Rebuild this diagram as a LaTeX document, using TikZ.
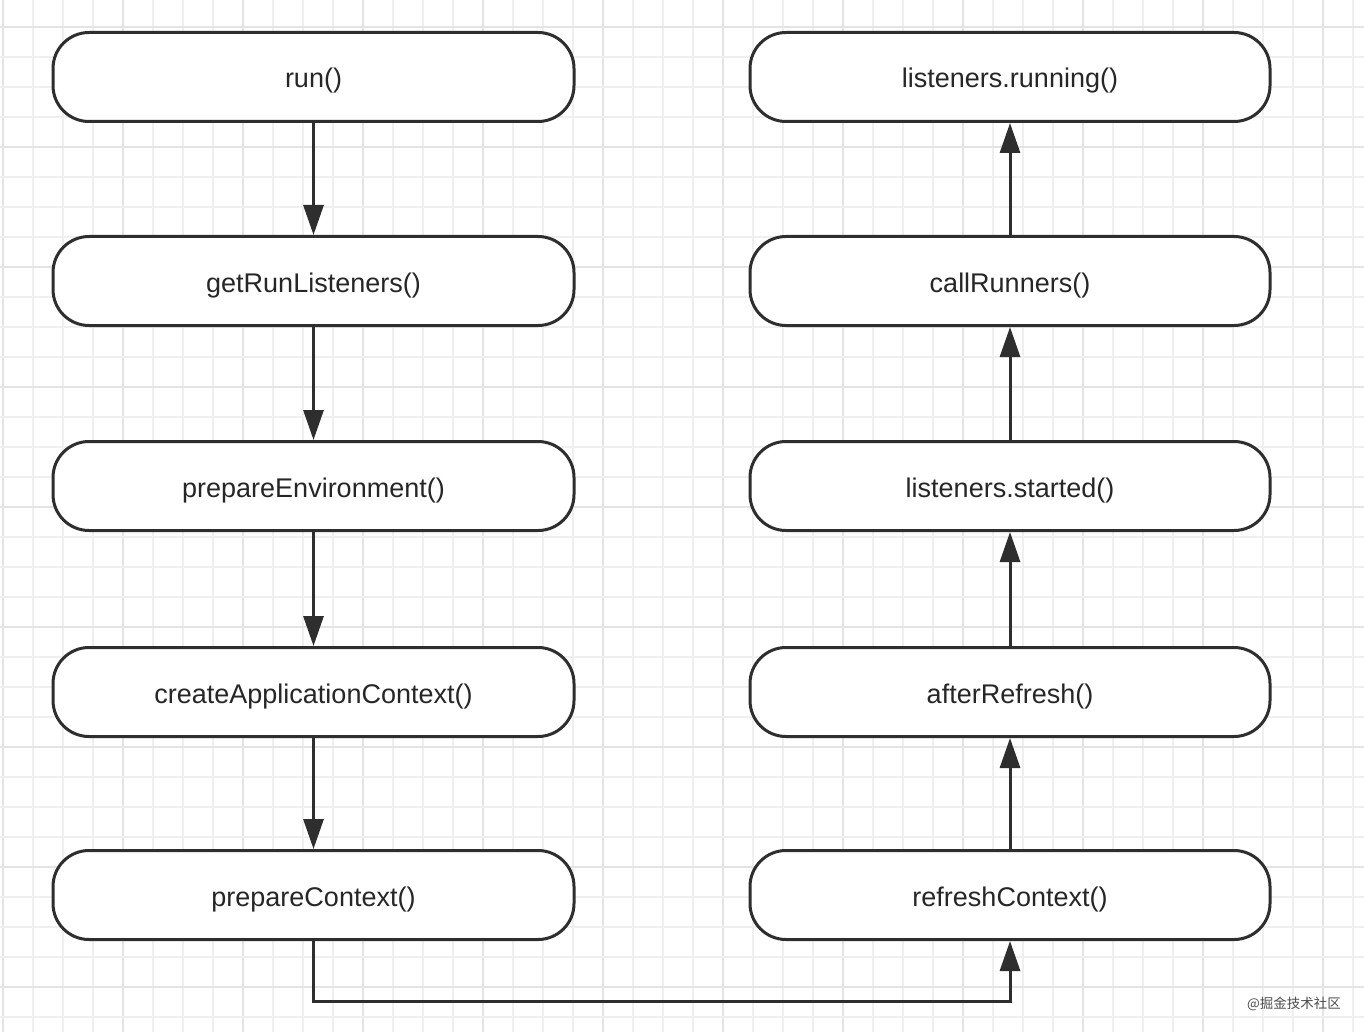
\documentclass[tikz,border=0pt]{standalone}
\usepackage{fontspec}
\setmainfont{Liberation Sans}
\newfontfamily\cjk{Noto Sans CJK SC}
\usetikzlibrary{arrows.meta}
\definecolor{lnc}{HTML}{2E2E2E}
\definecolor{minorg}{HTML}{EFEFEF}
\definecolor{majorg}{HTML}{E4E4E4}
\begin{document}
\begin{tikzpicture}[x=1pt,y=-1pt,
  stepbox/.style={draw=lnc, line width=3pt, rounded corners=36pt, fill=white,
    minimum width=521pt, minimum height=89pt, inner sep=0pt,
    text height=27pt, text depth=5pt,
    font=\fontsize{27}{32}\selectfont, text=black!85},
  arr/.style={draw=lnc, line width=3pt, -{Triangle[width=20pt,length=30pt]}},
  minorline/.style={draw=minorg, line width=1.2pt},
  majorline/.style={draw=majorg, line width=2pt}]
\useasboundingbox (0,0) rectangle (1364,1032);
\fill[white] (0,0) rectangle (1364,1032);
% grid
\foreach \i in {0,...,45} {
  \pgfmathtruncatemacro{\m}{mod(\i,4)}
  \ifnum\m=0
    \draw[majorline] ({3+30*\i},0) -- ({3+30*\i},1032);
  \else
    \draw[minorline] ({3+30*\i},0) -- ({3+30*\i},1032);
  \fi
}
\foreach \j in {0,...,34} {
  \pgfmathtruncatemacro{\m}{mod(\j,4)}
  \ifnum\m=0
    \draw[majorline] (0,{27+30*\j}) -- (1364,{27+30*\j});
  \else
    \draw[minorline] (0,{27+30*\j}) -- (1364,{27+30*\j});
  \fi
}
% left column
\node[stepbox] (run) at (313.5,77) {run()};
\node[stepbox] (grl) at (313.5,281) {getRunListeners()};
\node[stepbox] (pe) at (313.5,486) {prepareEnvironment()};
\node[stepbox] (cac) at (313.5,692) {createApplicationContext()};
\node[stepbox] (pc) at (313.5,895) {prepareContext()};
% right column
\node[stepbox, minimum width=520pt] (lr) at (1010,77) {listeners.running()};
\node[stepbox, minimum width=520pt] (cr) at (1010,281) {callRunners()};
\node[stepbox, minimum width=520pt] (ls) at (1010,486) {listeners.started()};
\node[stepbox, minimum width=520pt] (ar) at (1010,692) {afterRefresh()};
\node[stepbox, minimum width=520pt] (rc) at (1010,895) {refreshContext()};
% connectors
\draw[arr] (run.south) -- (grl.north);
\draw[arr] (grl.south) -- (pe.north);
\draw[arr] (pe.south) -- (cac.north);
\draw[arr] (cac.south) -- (pc.north);
\draw[arr] (pc.south) -- ++(0,60) -| (rc.south);
\draw[arr] (rc.north) -- (ar.south);
\draw[arr] (ar.north) -- (ls.south);
\draw[arr] (ls.north) -- (cr.south);
\draw[arr] (cr.north) -- (lr.south);
% watermark
\node[font=\cjk\fontsize{13.5}{13.5}\selectfont, text=black!70, inner sep=0pt] (wm) at (1294,1004) {@掘金技术社区};
\end{tikzpicture}
\end{document}
